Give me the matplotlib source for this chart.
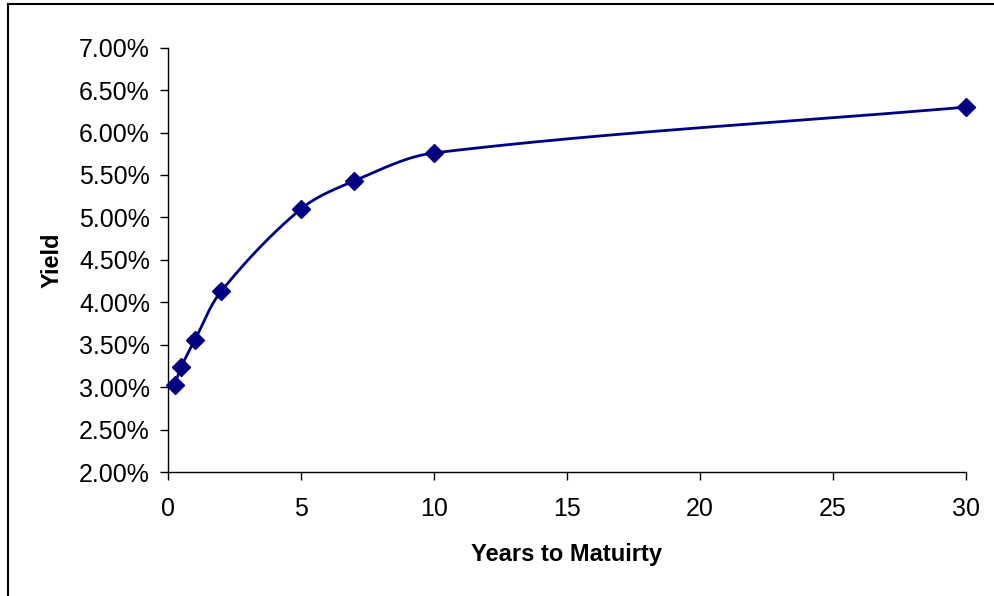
import numpy as np
import matplotlib
matplotlib.use("Agg")
import matplotlib.pyplot as plt
from matplotlib.lines import Line2D
from matplotlib.ticker import FuncFormatter

maturities = [0.25, 0.5, 1, 2, 5, 7, 10, 30]
yields = [0.0303, 0.0324, 0.0355, 0.0413, 0.0510, 0.0543, 0.0576, 0.0630]
x_ticks = [0, 5, 10, 15, 20, 25, 30]
y_ticks = [0.02, 0.025, 0.03, 0.035, 0.04, 0.045, 0.05, 0.055, 0.06, 0.065, 0.07]
x_label = "Years to Matuirty"
y_label = "Yield"

plt.rcParams['font.family'] = ['Liberation Sans', 'DejaVu Sans']

W, H = 995, 596
AX_L, AX_R, AX_T, AX_B = 168, 966, 47.7, 472
fig = plt.figure(figsize=(W / 100, H / 100), dpi=100)
ax = fig.add_axes([AX_L / W, 1 - AX_B / H, (AX_R - AX_L) / W, (AX_B - AX_T) / H])

XMIN, XMAX, YMIN, YMAX = 0, 30, 0.02, 0.07
sxs = (AX_R - AX_L) / (XMAX - XMIN)
sys_ = (AX_B - AX_T) / (YMAX - YMIN)


def smooth(xs, ys, n=60):
    # chord-length Catmull-Rom Bezier smoothing computed in screen-like units
    P = np.column_stack([np.asarray(xs, float) * sxs, np.asarray(ys, float) * sys_])
    P = np.vstack([P[0], P, P[-1]])
    t = np.linspace(0, 1, n)[:, None]
    out = []
    for i in range(1, len(P) - 2):
        p0, p1, p2, p3 = P[i - 1], P[i], P[i + 1], P[i + 2]
        d01 = np.linalg.norm(p1 - p0)
        d12 = np.linalg.norm(p2 - p1)
        d23 = np.linalg.norm(p3 - p2)
        c1 = p1 + (p2 - p0) * (d12 / (d01 + d12)) / 3 if d01 > 0 else p1 + (p2 - p1) / 3
        c2 = p2 - (p3 - p1) * (d12 / (d12 + d23)) / 3 if d23 > 0 else p2 - (p2 - p1) / 3
        b = (1 - t) ** 3 * p1 + 3 * (1 - t) ** 2 * t * c1 + 3 * (1 - t) * t ** 2 * c2 + t ** 3 * p2
        out.append(b)
    out = np.vstack(out)
    return out[:, 0] / sxs, out[:, 1] / sys_


sx, sy = smooth(maturities, yields)
ax.plot(sx, sy, color='#000080', lw=2.0, zorder=2, solid_capstyle='round')
ax.plot(maturities, yields, linestyle='none', marker='D', ms=9.5,
        color='#000080', zorder=3, clip_on=False)

ax.set_xlim(XMIN, XMAX)
ax.set_ylim(YMIN, YMAX)
ax.set_xticks(x_ticks)
ax.set_yticks(y_ticks)
ax.yaxis.set_major_formatter(FuncFormatter(lambda v, p: f"{v * 100:.2f}%"))
for s in ('top', 'right'):
    ax.spines[s].set_visible(False)
for s in ('left', 'bottom'):
    ax.spines[s].set_linewidth(1.0)
ax.tick_params(axis='both', direction='out', length=6, width=1.0, labelsize=18, colors='black')
ax.tick_params(axis='x', pad=12)
ax.tick_params(axis='y', pad=7)
ax.set_xlabel(x_label, fontsize=17, fontweight='bold')
ax.set_ylabel(y_label, fontsize=17, fontweight='bold')
ax.xaxis.set_label_coords(0.5, -(543 - AX_B) / (AX_B - AX_T))
ax.yaxis.set_label_coords(-(AX_L - 64) / (AX_R - AX_L), 0.5)

# outer chart-area frame (left and top edges visible)
fig.add_artist(Line2D([8 / W, 8 / W], [0, 1 - 4 / H], transform=fig.transFigure, color='black', lw=1.5))
fig.add_artist(Line2D([8 / W, 1], [1 - 4 / H, 1 - 4 / H], transform=fig.transFigure, color='black', lw=1.5))

fig.savefig("out.png", dpi=100)
